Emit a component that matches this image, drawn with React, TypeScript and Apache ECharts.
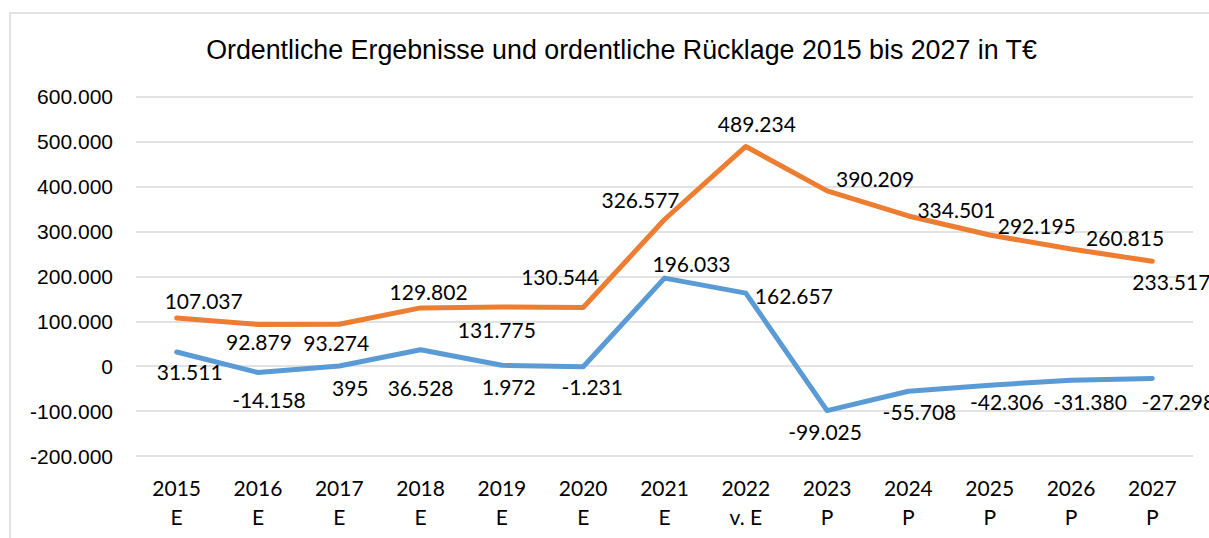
import React, { useEffect, useRef } from "react";
import * as echarts from "echarts";

const categories = [
  "2015\nE", "2016\nE", "2017\nE", "2018\nE", "2019\nE", "2020\nE", "2021\nE",
  "2022\nv. E", "2023\nP", "2024\nP", "2025\nP", "2026\nP", "2027\nP",
];

// Ordentliche Rücklage (T€)
const ruecklage = [107037, 92879, 93274, 129802, 131775, 130544, 326577, 489234, 390209, 334501, 292195, 260815, 233517];
// Ordentliches Ergebnis (T€)
const ergebnis = [31511, -14158, 395, 36528, 1972, -1231, 196033, 162657, -99025, -55708, -42306, -31380, -27298];

const yTicks = { min: -200000, max: 600000, interval: 100000 };

// label offsets (style only): [dx, dy] from the data point to label centre
const ruecklageLabelOffsets = [
  [27, -18], [1, 17], [-3, 18], [8, -16], [-5, 23], [-23, -31], [-24, -20],
  [11, -23], [48, -12], [48, -6], [47, -9], [54, -12], [19, 20],
];
const ergebnisLabelOffsets = [
  [13, 19], [11, 27], [11, 22], [0, 38], [7, 21], [9, 20], [27, -15],
  [48, 2], [-2, 21], [11, 20], [17, 16], [19, 21], [26, 23],
];

const fmt = (v: number) => {
  const neg = v < 0;
  const s = Math.abs(v).toString().replace(/\B(?=(\d{3})+(?!\d))/g, ".");
  return (neg ? "-" : "") + s;
};

const labelFont = "Lato, 'Open Sans', sans-serif";

function buildData(values: number[], offsets: number[][]) {
  return values.map((v, i) => ({
    value: v,
    label: {
      show: true,
      position: "inside",
      align: "center",
      verticalAlign: "middle",
      offset: offsets[i],
      formatter: () => fmt(v),
      color: "#000",
      fontSize: 21,
      fontFamily: labelFont,
    },
  }));
}

export default function App() {
  const ref = useRef<HTMLDivElement>(null);
  useEffect(() => {
    if (!ref.current) return;
    const chart = echarts.init(ref.current, undefined, { renderer: "svg" });
    chart.setOption({
      animation: false,
      backgroundColor: "#fff",
      title: {
        text: "Ordentliche Ergebnisse und ordentliche Rücklage 2015 bis 2027 in T€",
        left: 616.5,
        top: 31,
        textAlign: "center",
        textStyle: {
          fontFamily: "'Liberation Sans', Arial, sans-serif",
          fontWeight: "normal",
          fontSize: 26.8,
          color: "#000",
        },
      },
      graphic: [
        {
          type: "rect",
          shape: { x: 10, y: 13, width: 1300, height: 700 },
          style: { fill: "none", stroke: "#d9d9d9", lineWidth: 1.5 },
          silent: true,
          z: -1,
        },
      ],
      grid: { left: 136, right: 16, top: 96.7, bottom: 82, containLabel: false },
      xAxis: {
        type: "category",
        data: categories,
        boundaryGap: true,
        axisLine: { show: false },
        axisTick: { show: false },
        axisLabel: {
          margin: 17,
          color: "#000",
          fontSize: 21,
          lineHeight: 29,
          fontFamily: labelFont,
          interval: 0,
        },
      },
      yAxis: {
        type: "value",
        min: yTicks.min,
        max: yTicks.max,
        interval: yTicks.interval,
        axisLine: { show: false },
        axisTick: { show: false },
        splitLine: { lineStyle: { color: "#d9d9d9", width: 1.5 } },
        axisLabel: {
          margin: 23,
          color: "#000",
          fontSize: 21,
          fontFamily: "'Liberation Sans', Arial, sans-serif",
          formatter: (v: number) => fmt(v),
        },
      },
      series: [
        {
          name: "Ordentliche Rücklage",
          type: "line",
          data: buildData(ruecklage, ruecklageLabelOffsets),
          symbol: "circle",
          symbolSize: 1,
          showSymbol: true,
          itemStyle: { color: "#ED7D31" },
          lineStyle: { color: "#ED7D31", width: 5, cap: "round", join: "round" },
          z: 3,
        },
        {
          name: "Ordentliches Ergebnis",
          type: "line",
          data: buildData(ergebnis, ergebnisLabelOffsets),
          symbol: "circle",
          symbolSize: 1,
          showSymbol: true,
          itemStyle: { color: "#5B9BD5" },
          lineStyle: { color: "#5B9BD5", width: 5, cap: "round", join: "round" },
          z: 2,
        },
      ],
    });
    return () => chart.dispose();
  }, []);
  return (
    <div
      ref={ref}
      style={{ position: "absolute", left: 0, top: 0, width: 1209, height: 538 }}
    />
  );
}
